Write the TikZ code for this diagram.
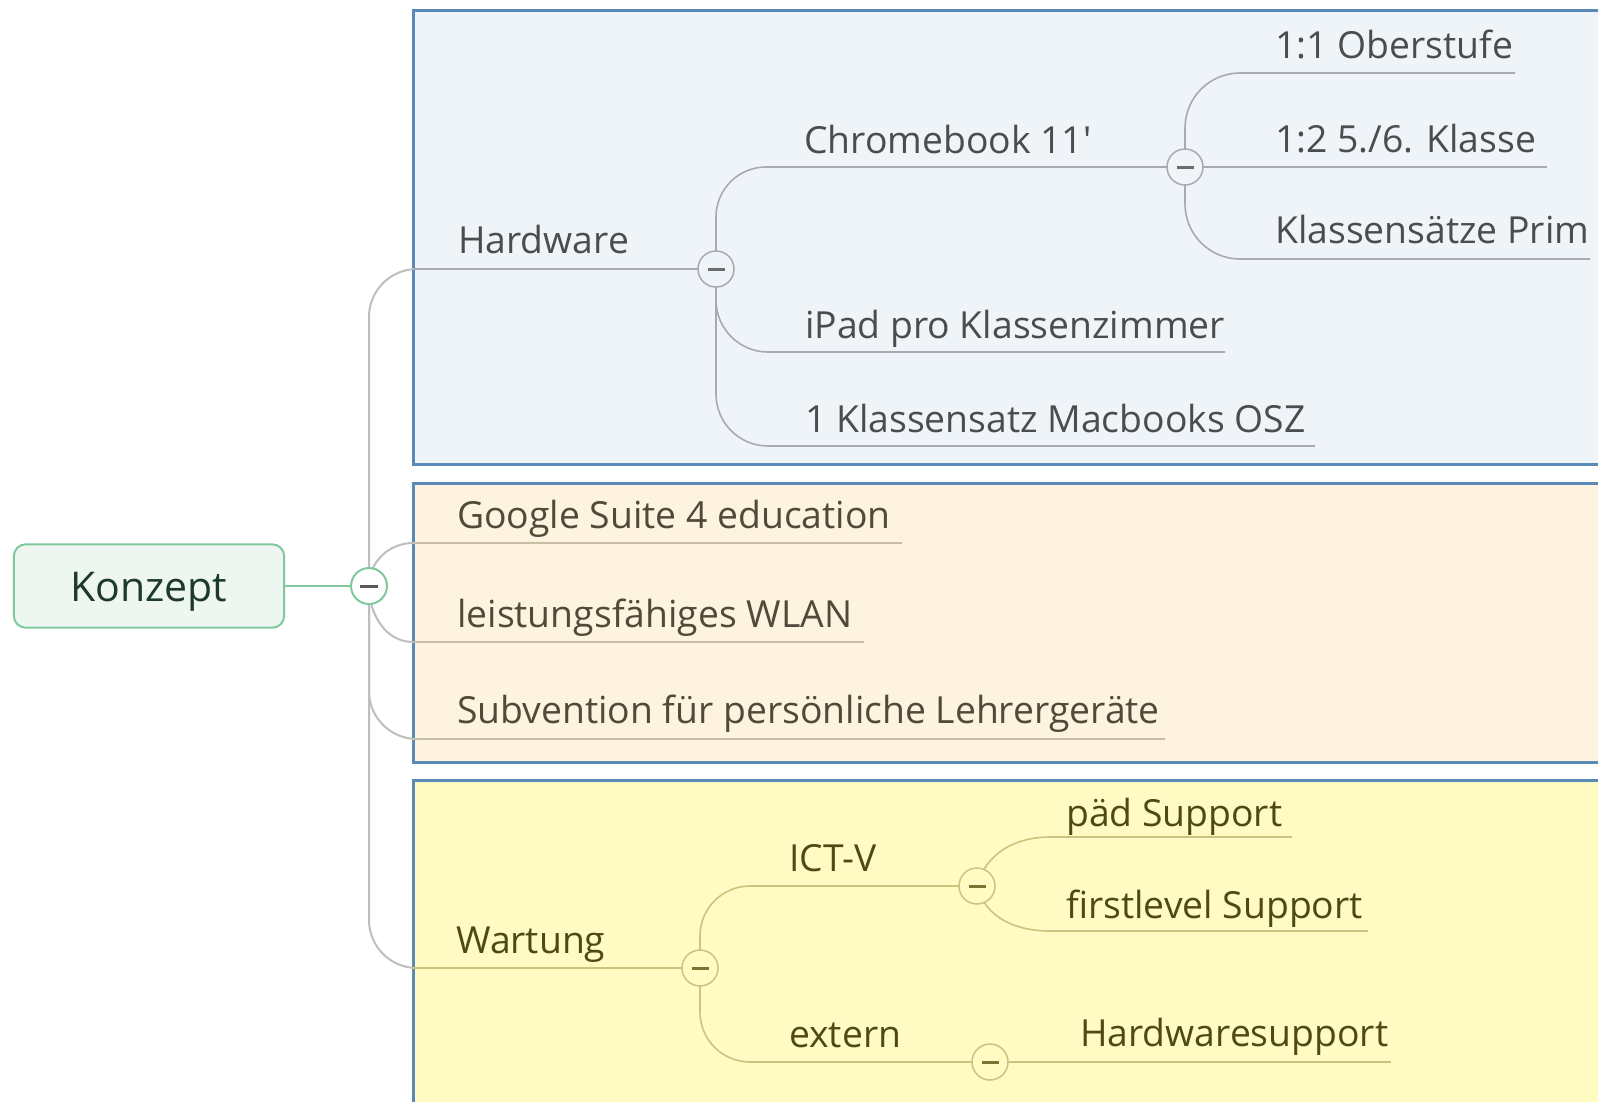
\documentclass[tikz,border=0pt]{standalone}
\usepackage{fontspec}
\setmainfont{Open Sans}[Ligatures=TeXOff]
\pgfdeclarelayer{bg}
\pgfdeclarelayer{lines}
\pgfsetlayers{bg,lines,main}
\definecolor{cbox1}{HTML}{EFF4F9}
\definecolor{cbox2}{HTML}{FEF3DF}
\definecolor{cbox3}{HTML}{FFFBC2}
\definecolor{cboxline}{HTML}{5A8AB8}
\definecolor{ckfill}{HTML}{EEF6F1}
\definecolor{ckline}{HTML}{80C89C}
\definecolor{cktext}{HTML}{1E3A2C}
\definecolor{ctrunk}{HTML}{BEBEBE}
\definecolor{cl1}{HTML}{A7ABB0}
\definecolor{cl2}{HTML}{C8BEA4}
\definecolor{cl3}{HTML}{CBC47F}
\definecolor{ct1}{HTML}{4A4C4F}
\definecolor{ct2}{HTML}{4F4A3A}
\definecolor{ct3}{HTML}{4F4A14}
\definecolor{cm1}{HTML}{6A6D70}
\definecolor{cm3}{HTML}{7A7430}
\begin{document}
\begin{tikzpicture}[x=1pt,y=-1pt,
  txt/.style={anchor=base west, inner sep=0pt, font=\fontsize{37.3}{41}\selectfont},
  txtA/.style={txt, text=ct1},
  txtB/.style={txt, text=ct2},
  txtC/.style={txt, text=ct3},
  grpbox/.style={draw=cboxline, line width=3pt},
  ktxt/.style={inner sep=0pt, text=cktext, font=\fontsize{41}{45}\selectfont},
  kframe/.style={draw=none, fill=none, minimum width=270pt, minimum height=83pt, inner sep=0pt},
  togbase/.style={circle, minimum size=36pt, inner sep=0pt, line width=1.5pt},
  togK/.style={togbase, draw=ckline, fill=white, line width=2pt,
    path picture={\draw[line width=3pt, color=black!65] ([xshift=-9pt]path picture bounding box.center) -- ([xshift=9pt]path picture bounding box.center);}},
  togA/.style={togbase, draw=cl1, fill=cbox1,
    path picture={\draw[line width=3pt, color=cm1] ([xshift=-8.5pt]path picture bounding box.center) -- ([xshift=8.5pt]path picture bounding box.center);}},
  togC/.style={togbase, draw=cl3, fill=cbox3,
    path picture={\draw[line width=3pt, color=cm3] ([xshift=-8.5pt]path picture bounding box.center) -- ([xshift=8.5pt]path picture bounding box.center);}},
  trunkline/.style={draw=ctrunk, line width=2pt},
  lineA/.style={draw=cl1, line width=1.6pt},
  lineB/.style={draw=cl2, line width=1.6pt},
  lineC/.style={draw=cl3, line width=1.6pt}
]
\useasboundingbox (0,0) rectangle (1598,1101);
\clip (0,0) rectangle (1598,1101);

% group boxes
\begin{pgfonlayer}{bg}
\fill[white] (0,0) rectangle (1598,1101);
\filldraw[grpbox, fill=cbox1] (413,10) rectangle (1620,464);
\filldraw[grpbox, fill=cbox2] (413,483) rectangle (1620,762);
\filldraw[grpbox, fill=cbox3] (413,780) rectangle (1620,1120);
\end{pgfonlayer}

% root
\node[kframe] (konzept) at (149,586) {};
\node[ktxt] (ktext) at (149,592) {Konzept};
\begin{pgfonlayer}{bg}
\filldraw[draw=ckline, fill=ckfill, line width=2pt, rounded corners=12pt] (konzept.north west) rectangle (konzept.south east);
\end{pgfonlayer}

% toggles
\node[togK] (tK) at (369,586) {};
\node[togA] (tH) at (716,269) {};
\node[togA] (tC) at (1185,167) {};
\node[togC] (tW) at (700,968) {};
\node[togC] (tI) at (977,886) {};
\node[togC] (tE) at (990,1062) {};

% texts
\node[txtA] (hw) at (458,253) {Hardware};
\node[txtA] (cb) at (804,153) {Chromebook 11'};
\node[txtA] (ipad) at (805,338) {iPad pro Klassenzimmer};
\node[txtA] (mac) at (805,432) {1 Klassensatz Macbooks OSZ};
\node[txtA] (ober) at (1275,58) {1:1 Oberstufe};
\node[txtA] (kl56) at (1275,152) {1:2 5./6. Klasse};
\node[txtA] (prim) at (1275,243) {Klassensätze Prim};
\node[txtB] (gs) at (457,528) {Google Suite 4 education};
\node[txtB] (wlan) at (457,627) {leistungsfähiges WLAN};
\node[txtB] (subv) at (457,723) {Subvention für persönliche Lehrergeräte};
\node[txtC] (wart) at (456,953) {Wartung};
\node[txtC] (ict) at (789,871) {ICT-V};
\node[txtC] (ext) at (789,1047) {extern};
\node[txtC] (pad) at (1066,826) {päd Support};
\node[txtC] (first) at (1066,918) {firstlevel Support};
\node[txtC] (hws) at (1080,1046) {Hardwaresupport};

% underline end points
\coordinate (hwL) at (413,269);
\coordinate (gsL) at (413,543);
\coordinate (gsR) at (902,543);
\coordinate (wlL) at (413,642);
\coordinate (wlR) at (864,642);
\coordinate (suL) at (413,739);
\coordinate (suR) at (1165,739);
\coordinate (waL) at (413,968);
\coordinate (ipR) at (1225,352);
\coordinate (maR) at (1315,446);
\coordinate (obR) at (1515,73);
\coordinate (klR) at (1547,167);
\coordinate (prR) at (1590,259);
\coordinate (paL) at (1050,837);
\coordinate (paR) at (1292,837);
\coordinate (fiL) at (1050,931);
\coordinate (fiR) at (1368,931);
\coordinate (hsR) at (1391,1062);

\begin{pgfonlayer}{lines}
\draw[draw=ckline, line width=2pt] (konzept.east) -- (tK.west);
% level 1
\draw[trunkline, rounded corners=48pt] (tK.center) |- (hwL);
\draw[lineA] (hwL) -- (tH.center);
\draw[trunkline] (tK.center) to[out=90,in=180] (gsL);
\draw[lineB] (gsL) -- (gsR);
\draw[trunkline] (tK.center) to[out=-90,in=180] (wlL);
\draw[lineB] (wlL) -- (wlR);
\draw[trunkline, rounded corners=48pt] (tK.center) |- (suL);
\draw[lineB] (suL) -- (suR);
\draw[trunkline, rounded corners=48pt] (tK.center) |- (waL);
\draw[lineC] (waL) -- (tW.center);
% hardware
\draw[lineA, rounded corners=50pt] (tH.center) |- (tC.center);
\draw[lineA, rounded corners=52pt] (tH.center) |- (ipR);
\draw[lineA, rounded corners=52pt] (tH.center) |- (maR);
\draw[lineA, rounded corners=55pt] (tC.center) |- (obR);
\draw[lineA] (tC.center) -- (klR);
\draw[lineA, rounded corners=55pt] (tC.center) |- (prR);
% wartung
\draw[lineC, rounded corners=50pt] (tW.center) |- (tI.center);
\draw[lineC, rounded corners=50pt] (tW.center) |- (tE.center);
\draw[lineC] (tI.center) to[out=75,in=180] (paL) -- (paR);
\draw[lineC] (tI.center) to[out=-75,in=180] (fiL) -- (fiR);
\draw[lineC] (tE.center) -- (hsR);
\end{pgfonlayer}
\end{tikzpicture}
\end{document}
